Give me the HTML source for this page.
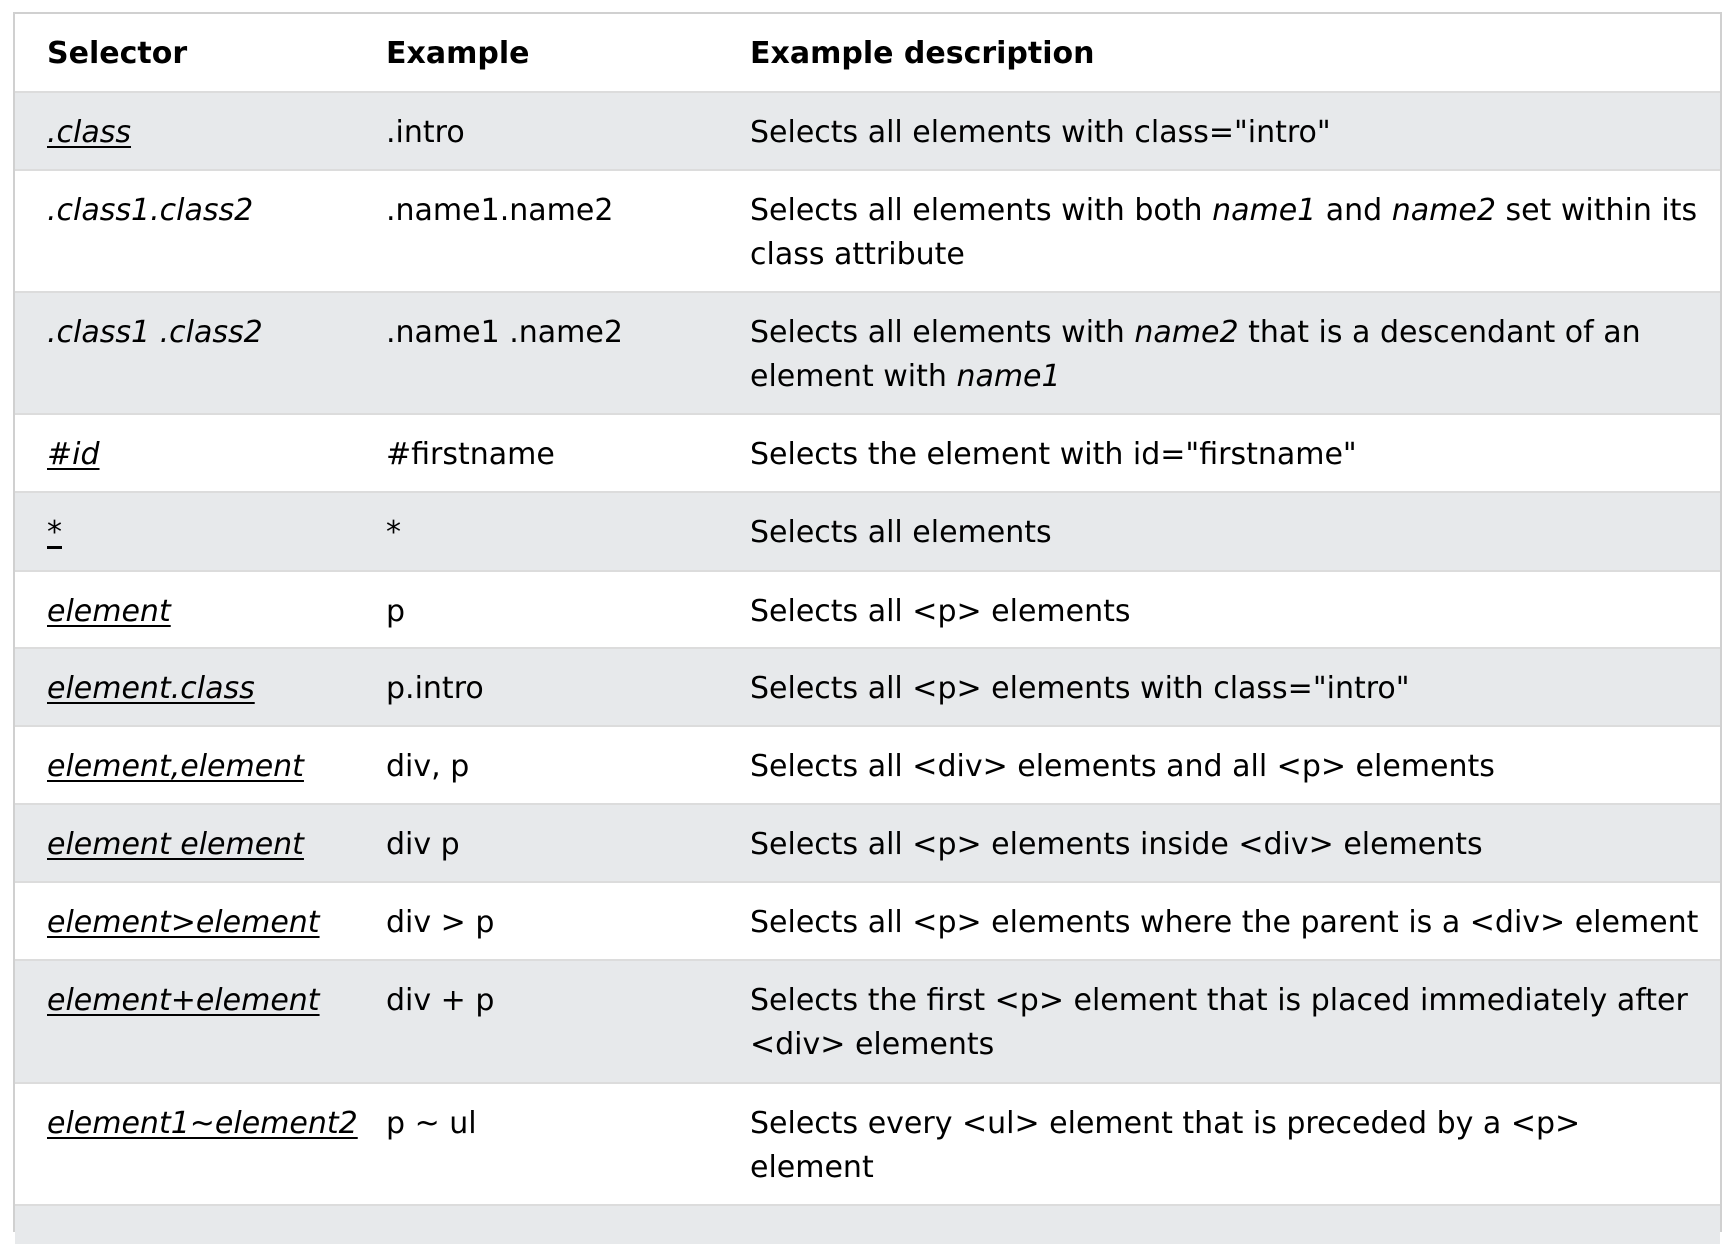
<!DOCTYPE html>
<html><head><meta charset="utf-8"><style>
body{margin:0;width:1734px;height:1216px;background:#fff;overflow:hidden;font-family:"DejaVu Sans","Liberation Sans",sans-serif;font-size:30px;color:#000}
.t{position:absolute;left:13px;top:12px;width:1709px;height:1220px;border:2px solid #d0d0d0;border-bottom:none;box-sizing:border-box}
.r{position:absolute;left:0;width:100%;border-top:2px solid #dcdcdc;box-sizing:border-box}
.g{background:#e7e9eb}
.c{position:absolute;top:18px;line-height:44px;white-space:nowrap}
.a{left:32px}.b{left:371px}.d{left:735px}
i.u{text-decoration:underline;text-decoration-thickness:2px;text-underline-offset:4px}
.h{font-weight:bold}
</style></head><body>
<div class="t">
<div class="r" style="top:0;height:77px;border-top:none"><div class="c a h">Selector</div><div class="c b h">Example</div><div class="c d h">Example description</div></div>
<div class="r g" style="top:77px;height:78px"><div class="c a"><i class="u">.class</i></div><div class="c b">.intro</div><div class="c d">Selects all elements with class="intro"</div></div>
<div class="r" style="top:155px;height:122px"><div class="c a"><i>.class1.class2</i></div><div class="c b">.name1.name2</div><div class="c d">Selects all elements with both <i>name1</i> and <i>name2</i> set within its<br>class attribute</div></div>
<div class="r g" style="top:277px;height:122px"><div class="c a"><i>.class1 .class2</i></div><div class="c b">.name1 .name2</div><div class="c d">Selects all elements with <i>name2</i> that is a descendant of an<br>element with <i>name1</i></div></div>
<div class="r" style="top:399px;height:78px"><div class="c a"><i class="u">#id</i></div><div class="c b">#firstname</div><div class="c d">Selects the element with id="firstname"</div></div>
<div class="r g" style="top:477px;height:79px"><div class="c a"><span style="text-decoration:underline;text-underline-offset:4px">*</span></div><div class="c b">*</div><div class="c d">Selects all elements</div></div>
<div class="r" style="top:556px;height:77px"><div class="c a"><i class="u">element</i></div><div class="c b">p</div><div class="c d">Selects all &lt;p&gt; elements</div></div>
<div class="r g" style="top:633px;height:78px"><div class="c a"><i class="u">element.class</i></div><div class="c b">p.intro</div><div class="c d">Selects all &lt;p&gt; elements with class="intro"</div></div>
<div class="r" style="top:711px;height:78px"><div class="c a"><i class="u">element,element</i></div><div class="c b">div, p</div><div class="c d">Selects all &lt;div&gt; elements and all &lt;p&gt; elements</div></div>
<div class="r g" style="top:789px;height:78px"><div class="c a"><i class="u">element element</i></div><div class="c b">div p</div><div class="c d">Selects all &lt;p&gt; elements inside &lt;div&gt; elements</div></div>
<div class="r" style="top:867px;height:78px"><div class="c a"><i class="u">element&gt;element</i></div><div class="c b">div &gt; p</div><div class="c d">Selects all &lt;p&gt; elements where the parent is a &lt;div&gt; element</div></div>
<div class="r g" style="top:945px;height:123px"><div class="c a"><i class="u">element+element</i></div><div class="c b">div + p</div><div class="c d">Selects the first &lt;p&gt; element that is placed immediately after<br>&lt;div&gt; elements</div></div>
<div class="r" style="top:1068px;height:122px"><div class="c a"><i class="u">element1~element2</i></div><div class="c b">p ~ ul</div><div class="c d">Selects every &lt;ul&gt; element that is preceded by a &lt;p&gt;<br>element</div></div>
<div class="r g" style="top:1190px;height:40px"></div>
</div>
</body></html>
